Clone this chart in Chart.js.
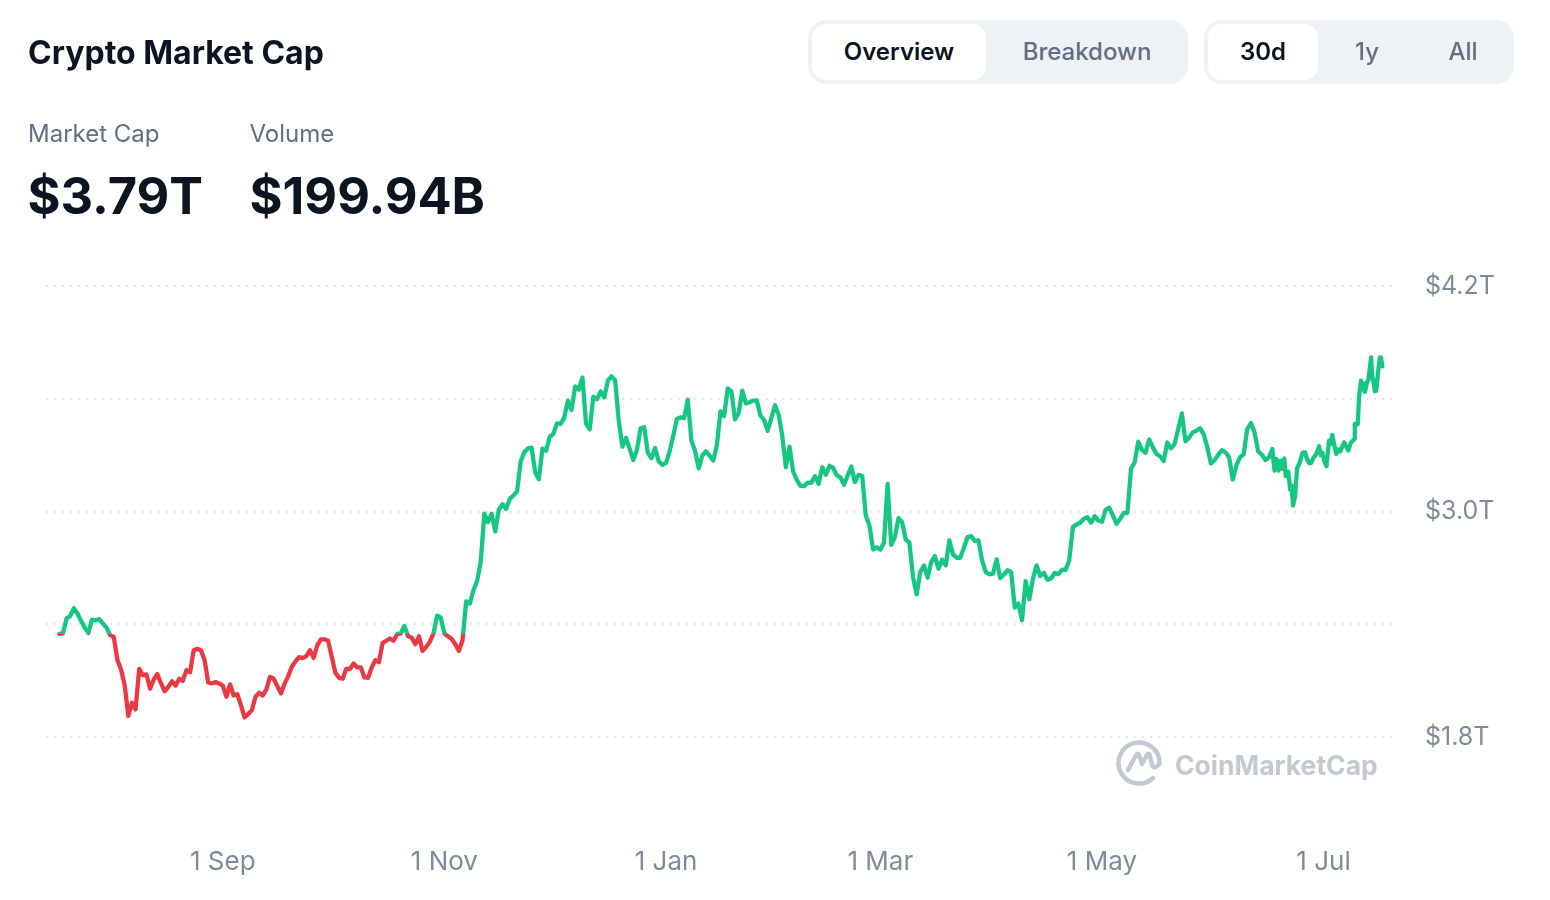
<!DOCTYPE html>
<html>
<head>
<meta charset="utf-8">
<title>Crypto Market Cap</title>
<script src="https://cdn.jsdelivr.net/npm/chart.js@4"></script>
<style>
  html, body { margin: 0; padding: 0; background: #fff; }
  body { width: 1550px; height: 900px; overflow: hidden; position: relative; font-family: Inter, sans-serif; color: #0d1421; }
  canvas { position: absolute; left: 0; top: 0; }
  .abs { position: absolute; white-space: nowrap; }
  .title { left: 28px; top: 33px; font-size: 32px; line-height: 40px; font-weight: 700; }
  .label { top: 118px; font-size: 24px; line-height: 32px; color: #616e85; }
  .stat { top: 165px; font-size: 50.5px; line-height: 62px; font-weight: 700; }
  .toggle { top: 20px; height: 64px; background: #eff2f5; border-radius: 18px; }
  .active { top: 24px; height: 56px; background: #fff; border-radius: 14px; }
  .opt { top: 36px; font-size: 24px; line-height: 32px; transform: translateX(-50%); color: #616e85; font-weight: 500; }
  .opt.on { color: #0d1421; font-weight: 600; }
  .mark { left: 1175px; top: 746px; font-size: 26.5px; line-height: 38px; font-weight: 700; color: #c4c8d3; }
</style>
</head>
<body>
<canvas id="capChart" width="1550" height="900"></canvas>

<div class="abs title">Crypto Market Cap</div>
<div class="abs label" style="left:28px">Market Cap</div>
<div class="abs label" style="left:249.5px">Volume</div>
<div class="abs stat" style="left:27.5px">$3.79T</div>
<div class="abs stat" style="left:249.5px">$199.94B</div>

<div class="abs toggle" style="left:808px;width:380px"></div>
<div class="abs active" style="left:812px;width:174px"></div>
<div class="abs opt on" style="left:899px">Overview</div>
<div class="abs opt" style="left:1087px">Breakdown</div>

<div class="abs toggle" style="left:1204px;width:310px"></div>
<div class="abs active" style="left:1208px;width:110px"></div>
<div class="abs opt on" style="left:1263px">30d</div>
<div class="abs opt" style="left:1367px">1y</div>
<div class="abs opt" style="left:1463px">All</div>

<svg class="abs" style="left:1110px;top:735px" width="60" height="60" viewBox="1110 735 60 60" fill="none" stroke="#c4c8d3" stroke-width="4.5" stroke-linecap="round" stroke-linejoin="round">
  <path d="M1153 778 A20.5 20.5 0 1 1 1159.5 763"/>
  <path d="M1128 770 L1136 755 Q1138 752 1139.5 756 L1142 764 L1147 755 Q1149 752 1150 756 L1152 765 Q1154 770 1159.5 764"/>
</svg>
<div class="abs mark">CoinMarketCap</div>

<script>
// market cap in trillions, one value per day from 18 Jul
const dailyCaps = [
  2.349, 2.351, 2.430, 2.444, 2.485, 2.457, 2.418, 2.382, 2.354, 2.425,
  2.421, 2.427, 2.404, 2.382, 2.342, 2.333, 2.209, 2.159, 2.076, 1.912,
  1.982, 1.947, 2.163, 2.129, 2.133, 2.057, 2.106, 2.135, 2.085, 2.043,
  2.067, 2.096, 2.074, 2.110, 2.099, 2.156, 2.145, 2.262, 2.269, 2.262,
  2.209, 2.090, 2.085, 2.092, 2.085, 2.074, 2.014, 2.080, 2.021, 2.028,
  1.970, 1.904, 1.922, 1.943, 2.014, 2.035, 2.021, 2.053, 2.120, 2.110,
  2.071, 2.032, 2.082, 2.124, 2.174, 2.202, 2.225, 2.220, 2.230, 2.262,
  2.221, 2.287, 2.319, 2.320, 2.312, 2.227, 2.142, 2.115, 2.110, 2.163,
  2.161, 2.191, 2.170, 2.170, 2.117, 2.115, 2.170, 2.209, 2.198, 2.301,
  2.312, 2.324, 2.312, 2.347, 2.351, 2.391, 2.336, 2.329, 2.294, 2.336,
  2.258, 2.280, 2.306, 2.351, 2.446, 2.435, 2.351, 2.336, 2.322, 2.294,
  2.258, 2.315, 2.522, 2.510, 2.581, 2.630, 2.731, 2.988, 2.943, 2.988,
  2.894, 3.011, 3.039, 3.014, 3.067, 3.085, 3.106, 3.266, 3.315, 3.336,
  3.340, 3.209, 3.172, 3.335, 3.324, 3.398, 3.413, 3.469, 3.466, 3.501,
  3.590, 3.540, 3.666, 3.648, 3.713, 3.466, 3.437, 3.611, 3.597, 3.639,
  3.607, 3.696, 3.719, 3.699, 3.483, 3.345, 3.391, 3.333, 3.274, 3.328,
  3.443, 3.448, 3.312, 3.283, 3.338, 3.267, 3.248, 3.259, 3.320, 3.404,
  3.492, 3.501, 3.497, 3.595, 3.377, 3.324, 3.230, 3.297, 3.320, 3.297,
  3.271, 3.351, 3.533, 3.508, 3.655, 3.639, 3.490, 3.524, 3.643, 3.575,
  3.581, 3.590, 3.591, 3.510, 3.487, 3.430, 3.497, 3.566, 3.515, 3.404,
  3.236, 3.345, 3.213, 3.168, 3.136, 3.135, 3.154, 3.152, 3.188, 3.147,
  3.236, 3.195, 3.243, 3.232, 3.193, 3.182, 3.142, 3.191, 3.239, 3.156,
  3.195, 3.190, 2.979, 2.926, 2.798, 2.809, 2.797, 2.834, 3.147, 2.823,
  2.864, 2.965, 2.943, 2.850, 2.834, 2.651, 2.559, 2.678, 2.713, 2.648,
  2.731, 2.763, 2.696, 2.743, 2.713, 2.846, 2.772, 2.754, 2.754, 2.807,
  2.864, 2.869, 2.843, 2.846, 2.740, 2.678, 2.666, 2.669, 2.745, 2.646,
  2.664, 2.687, 2.678, 2.489, 2.510, 2.421, 2.630, 2.533, 2.643, 2.713,
  2.657, 2.674, 2.637, 2.644, 2.673, 2.666, 2.690, 2.689, 2.740, 2.917,
  2.931, 2.940, 2.961, 2.970, 2.940, 2.975, 2.952, 2.945, 3.009, 3.020,
  2.979, 2.935, 2.961, 2.993, 2.993, 3.227, 3.262, 3.372, 3.328, 3.313,
  3.384, 3.342, 3.306, 3.294, 3.269, 3.367, 3.336, 3.359, 3.439, 3.522,
  3.374, 3.393, 3.421, 3.430, 3.443, 3.412, 3.342, 3.255, 3.274, 3.301,
  3.326, 3.315, 3.289, 3.170, 3.244, 3.289, 3.303, 3.439, 3.471, 3.421,
  3.320, 3.303, 3.274, 3.289
];

// the last weeks are sampled more often than once a day
const lateDays = [
  333.9, 334.5, 335.0, 335.6, 336.1, 336.7, 337.2, 337.6, 338.3, 338.8,
  339.2, 339.6, 340.2, 340.7, 341.4, 342.2, 342.9, 343.4, 344.0, 344.6,
  345.2, 345.7, 346.2, 346.8, 347.2, 347.7, 348.2, 348.8, 349.5, 350.0,
  350.4, 351.0, 351.5, 352.0, 352.6, 353.2, 353.7, 354.8, 355.5, 356.5,
  356.6, 357.4, 357.8, 358.3, 358.8, 359.1, 359.4, 360.0, 360.3, 361.1,
  361.4, 361.7, 362.1, 362.5, 363.0, 363.5, 363.8, 364.2
];
const lateCaps = [
  3.333, 3.218, 3.280, 3.218, 3.271, 3.227, 3.283, 3.188, 3.212, 3.117,
  3.138, 3.032, 3.085, 3.230, 3.258, 3.312, 3.315, 3.282, 3.258, 3.258,
  3.285, 3.297, 3.315, 3.347, 3.300, 3.312, 3.270, 3.241, 3.377, 3.360,
  3.407, 3.350, 3.306, 3.330, 3.319, 3.350, 3.368, 3.324, 3.365, 3.386,
  3.466, 3.464, 3.616, 3.696, 3.650, 3.680, 3.637, 3.690, 3.696, 3.820,
  3.720, 3.696, 3.640, 3.643, 3.740, 3.820, 3.820, 3.772
];

const tickDays = [45, 106, 167, 226, 287, 348];
const tickLabels = ['1 Sep', '1 Nov', '1 Jan', '1 Mar', '1 May', '1 Jul'];
const yTickValues = [4.2, 3.0, 1.8];
const yTickLabels = ['$4.2T', '$3.0T', '$1.8T'];

const GREEN = '#16c784';
const RED = '#ea3943';
const TICK_COLOR = '#808a9d';
const baseline = dailyCaps[0];

const points = dailyCaps.map((y, i) => ({ x: i, y }));
lateDays.forEach((x, i) => points.push({ x, y: lateCaps[i] }));

// green above the first value, red below, split right at the baseline
function lineColor(context) {
  const { chart } = context;
  const { ctx, chartArea, scales } = chart;
  if (!chartArea) return GREEN;
  const gradient = ctx.createLinearGradient(0, chartArea.top, 0, chartArea.bottom);
  const stop = (scales.y.getPixelForValue(baseline) - chartArea.top) / (chartArea.bottom - chartArea.top);
  gradient.addColorStop(0, GREEN);
  gradient.addColorStop(stop, GREEN);
  gradient.addColorStop(stop, RED);
  gradient.addColorStop(1, RED);
  return gradient;
}

new Chart(document.getElementById('capChart').getContext('2d'), {
  type: 'line',
  data: {
    datasets: [{
      label: 'Market Cap',
      data: points,
      borderColor: lineColor,
      borderWidth: 4.3,
      borderJoinStyle: 'round',
      borderCapStyle: 'round',
      pointRadius: 0,
      tension: 0,
      fill: false
    }]
  },
  options: {
    responsive: false,
    animation: false,
    layout: {
      autoPadding: false,
      padding: { left: 46, top: 286, right: 0, bottom: 0 }
    },
    plugins: {
      legend: { display: false },
      tooltip: { enabled: false }
    },
    scales: {
      x: {
        type: 'linear',
        min: -3.66,
        max: 367.39,
        afterFit: (scale) => { scale.height = 163; },
        afterBuildTicks: (scale) => { scale.ticks = tickDays.map((value) => ({ value })); },
        grid: { display: false, drawTicks: false },
        border: { display: false },
        ticks: {
          padding: 110,
          autoSkip: false,
          maxRotation: 0,
          color: TICK_COLOR,
          font: { family: 'Inter', size: 26 },
          callback: (value) => tickLabels[tickDays.indexOf(value)]
        }
      },
      y: {
        position: 'right',
        min: 1.8,
        max: 4.2,
        afterFit: (scale) => { scale.width = 156; },
        grid: {
          color: '#e3e6eb',
          lineWidth: 2,
          drawTicks: false
        },
        border: { display: false, dash: [2, 6] },
        ticks: {
          stepSize: 0.6,
          padding: 31,
          autoSkip: false,
          color: TICK_COLOR,
          font: { family: 'Inter', size: 25 },
          callback: (value) => {
            const i = yTickValues.findIndex((v) => Math.abs(v - value) < 0.001);
            return i < 0 ? '' : yTickLabels[i];
          }
        }
      }
    }
  }
});
</script>
</body>
</html>
